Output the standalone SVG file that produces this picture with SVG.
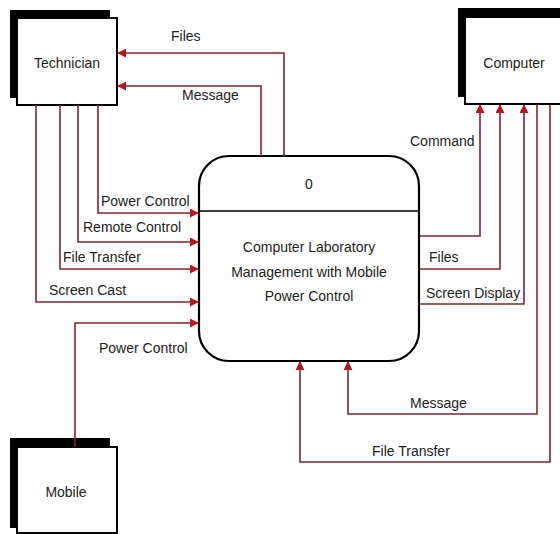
<svg xmlns="http://www.w3.org/2000/svg" width="560" height="534" viewBox="0 0 560 534">
  <style>
    .shadow { fill: #000; }
    .box { fill: #fff; stroke: #000; stroke-width: 2; }
    .proc { fill: #fff; stroke: #000; stroke-width: 2.2; }
    .flow { fill: none; stroke: #84242a; stroke-width: 1.6; }
    text { font-family: "Liberation Sans", Arial, sans-serif; font-size: 14px; fill: #222; }
    .mid { text-anchor: middle; }
  </style>
  <defs>
    <marker id="arrow" viewBox="0 0 10 10" refX="9" refY="5" markerWidth="9" markerHeight="9" markerUnits="userSpaceOnUse" orient="auto">
      <path d="M0,0 L10,5 L0,10 z" fill="#b8141f"/>
    </marker>
  </defs>
  <rect width="560" height="534" fill="#fff"/>

  <!-- External entity: Technician -->
  <g id="technician">
    <rect class="shadow" x="10" y="10" width="100" height="88"/>
    <rect class="box" x="17" y="18" width="100" height="87"/>
    <text class="mid" x="67" y="68">Technician</text>
  </g>

  <!-- External entity: Computer -->
  <g id="computer">
    <rect class="shadow" x="458" y="8" width="110" height="89"/>
    <rect class="box" x="465" y="17" width="110" height="87"/>
    <text class="mid" x="514" y="68">Computer</text>
  </g>

  <!-- External entity: Mobile -->
  <g id="mobile">
    <rect class="shadow" x="10" y="438" width="100" height="90"/>
    <rect class="box" x="17" y="447" width="100" height="86"/>
    <text class="mid" x="66" y="497">Mobile</text>
  </g>

  <!-- Process 0 -->
  <g id="process-0">
    <rect class="proc" x="199" y="156" width="220" height="205" rx="30" ry="30"/>
    <line x1="199" y1="211" x2="419" y2="211" stroke="#000" stroke-width="1.6"/>
    <text class="mid" x="309" y="189">0</text>
    <text class="mid" x="309" y="252">Computer Laboratory</text>
    <text class="mid" x="309" y="277">Management with Mobile</text>
    <text class="mid" x="309" y="301">Power Control</text>
  </g>

  <!-- Data flows -->
  <g id="connectors">
    <path class="flow" d="M98,105 V213 H198" marker-end="url(#arrow)"/>
    <path class="flow" d="M78,105 V242 H198" marker-end="url(#arrow)"/>
    <path class="flow" d="M60,105 V269 H198" marker-end="url(#arrow)"/>
    <path class="flow" d="M36,105 V302 H198" marker-end="url(#arrow)"/>
    <path class="flow" d="M75,447 V323 H198" marker-end="url(#arrow)"/>
    <path class="flow" d="M284,156 V53 H118" marker-end="url(#arrow)"/>
    <path class="flow" d="M261,156 V86 H118" marker-end="url(#arrow)"/>
    <path class="flow" d="M420,236 H480 V105" marker-end="url(#arrow)"/>
    <path class="flow" d="M420,269 H500 V105" marker-end="url(#arrow)"/>
    <path class="flow" d="M420,304 H524 V105" marker-end="url(#arrow)"/>
    <path class="flow" d="M537,105 V414 H348 V362" marker-end="url(#arrow)"/>
    <path class="flow" d="M550,105 V462 H300 V362" marker-end="url(#arrow)"/>
  </g>

  <!-- Flow labels -->
  <g id="labels">
    <text x="171" y="41">Files</text>
    <text x="182" y="100">Message</text>
    <text x="101" y="206">Power Control</text>
    <text x="83" y="232">Remote Control</text>
    <text x="63" y="262">File Transfer</text>
    <text x="49" y="295">Screen Cast</text>
    <text x="99" y="353">Power Control</text>
    <text x="410" y="146">Command</text>
    <text x="429" y="262">Files</text>
    <text x="426" y="298">Screen Display</text>
    <text x="410" y="408">Message</text>
    <text x="372" y="456">File Transfer</text>
  </g>
</svg>
